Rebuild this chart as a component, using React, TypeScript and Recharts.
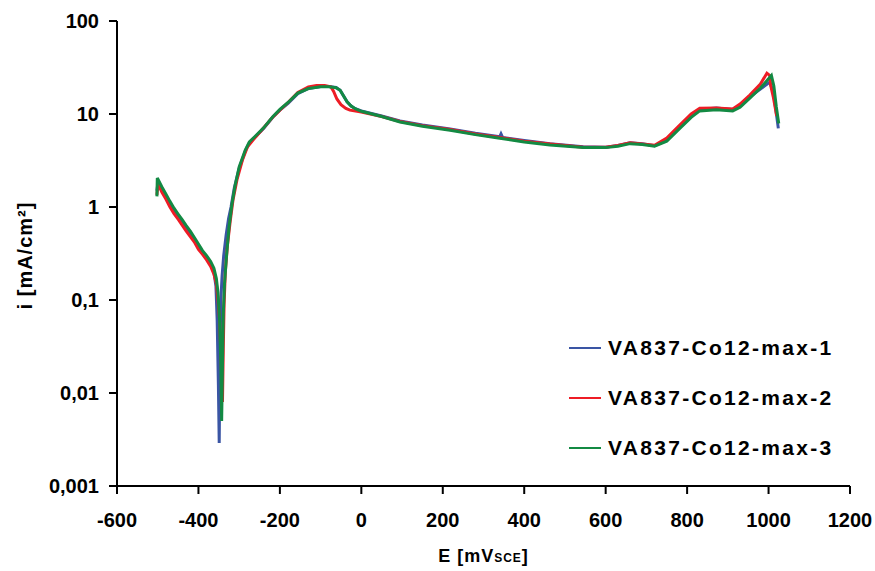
import { LineChart, Line, XAxis, YAxis, Label } from "recharts"

// polarisation curves, E in mV(SCE), i in mA/cm2
const run1: [number, number][] = [
  [-502, 1.5], [-500, 1.75], [-490, 1.5], [-480, 1.3], [-470, 1.08], [-460, 0.92], [-450, 0.8],
  [-440, 0.7], [-430, 0.6], [-420, 0.52], [-410, 0.44], [-400, 0.37], [-390, 0.32], [-380, 0.28],
  [-370, 0.24], [-362, 0.2], [-357, 0.14], [-354, 0.06], [-351, 0.012], [-349, 0.0029], [-347, 0.03],
  [-345, 0.1], [-342, 0.18], [-338, 0.3], [-332, 0.5], [-326, 0.75], [-320, 1.0], [-312, 1.6],
  [-300, 2.6], [-285, 4.0], [-275, 4.9], [-260, 5.7], [-240, 7.0], [-217, 9.3], [-200, 11],
  [-180, 13], [-156, 16.5], [-130, 18.8], [-100, 19.8], [-80, 19.8], [-62, 19.3], [-52, 18],
  [-45, 16], [-35, 13.5], [-25, 12.2], [-15, 11.4], [0, 10.8], [50, 9.5], [95, 8.4], [150, 7.6],
  [218, 6.9], [280, 6.2], [340, 5.7], [343, 6.1], [347, 5.6], [400, 5.2], [463, 4.8], [545, 4.45],
  [600, 4.4], [630, 4.6], [660, 4.9], [690, 4.8], [720, 4.55], [750, 5.2], [782, 7.3], [810, 9.6],
  [831, 11.2], [872, 11.6], [912, 11.2], [930, 12.3], [954, 15.3], [980, 18.5], [1003, 22],
  [1012, 17], [1018, 11], [1024, 7.0],
]

const run2: [number, number][] = [
  [-502, 1.35], [-499, 1.8], [-490, 1.45], [-480, 1.22], [-470, 1.0], [-460, 0.85], [-450, 0.74],
  [-440, 0.64], [-430, 0.55], [-420, 0.48], [-410, 0.42], [-400, 0.35], [-390, 0.31], [-380, 0.27],
  [-370, 0.23], [-362, 0.19], [-356, 0.15], [-352, 0.1], [-348, 0.06], [-344, 0.02], [-341, 0.008],
  [-339, 0.03], [-337, 0.09], [-334, 0.2], [-329, 0.38], [-322, 0.7], [-315, 1.2], [-305, 2.0],
  [-292, 3.2], [-280, 4.4], [-265, 5.3], [-245, 6.7], [-220, 9.0], [-200, 11], [-180, 13.3],
  [-156, 17], [-130, 19.5], [-110, 20.2], [-90, 20.2], [-75, 19.6], [-68, 17.5], [-60, 14.5],
  [-50, 12.6], [-38, 11.5], [-28, 11.0], [0, 10.5], [50, 9.4], [95, 8.3], [150, 7.5], [218, 6.8],
  [280, 6.1], [340, 5.6], [400, 5.1], [463, 4.75], [545, 4.4], [600, 4.4], [630, 4.6], [660, 4.9],
  [690, 4.75], [720, 4.6], [750, 5.5], [782, 7.6], [810, 10], [831, 11.5], [872, 11.6], [912, 11.3],
  [930, 12.8], [954, 16], [980, 21], [996, 27.5], [1003, 26], [1005, 20.5], [1012, 15], [1020, 9.5],
]

const run3: [number, number][] = [
  [-502, 1.3], [-501, 2.05], [-490, 1.65], [-480, 1.38], [-470, 1.15], [-460, 0.97], [-450, 0.84],
  [-440, 0.73], [-430, 0.63], [-420, 0.55], [-410, 0.47], [-400, 0.4], [-390, 0.34], [-380, 0.3],
  [-370, 0.26], [-362, 0.22], [-356, 0.17], [-352, 0.12], [-348, 0.06], [-345, 0.02], [-343, 0.005],
  [-341, 0.02], [-339, 0.07], [-336, 0.15], [-331, 0.3], [-325, 0.6], [-318, 1.05], [-310, 1.7],
  [-300, 2.7], [-285, 4.1], [-275, 5.0], [-260, 5.8], [-240, 7.1], [-217, 9.4], [-200, 11.2],
  [-180, 13.3], [-156, 16.8], [-130, 18.8], [-100, 19.6], [-80, 19.6], [-62, 19.2], [-52, 18],
  [-45, 16], [-35, 13.5], [-25, 12.2], [-15, 11.4], [0, 10.7], [50, 9.4], [95, 8.2], [150, 7.4],
  [218, 6.7], [280, 6.0], [340, 5.5], [400, 5.0], [463, 4.65], [545, 4.35], [600, 4.35], [630, 4.5],
  [660, 4.8], [690, 4.7], [720, 4.5], [750, 5.1], [782, 7.0], [810, 9.2], [831, 10.8], [872, 11.1],
  [912, 10.8], [930, 11.8], [954, 14.8], [980, 19], [1007, 26], [1013, 20], [1019, 12], [1025, 7.9],
]

const seriesNames = ["VA837-Co12-max-1", "VA837-Co12-max-2", "VA837-Co12-max-3"]
const seriesColors = ["#3A55A4", "#EE1C25", "#138A43"]
const xTicks = [-600, -400, -200, 0, 200, 400, 600, 800, 1000, 1200]
const yTicks = [0.001, 0.01, 0.1, 1, 10, 100]

const font = "'Liberation Sans', Arial, sans-serif"
const toRows = (pts: [number, number][]) => pts.map(([e, i]) => ({ e, i }))
const runs = [run1, run2, run3].map(toRows)

const fmtY = (v: number) => String(v).replace(".", ",")

// legend drawn as an overlay so it does not shrink the plot area
function LegendBox() {
  return (
    <div
      style={{
        position: "absolute",
        left: 569,
        top: 323,
        fontFamily: font,
        fontWeight: "bold",
        fontSize: 21,
        letterSpacing: 2.3,
      }}
    >
      {seriesNames.map((name, k) => (
        <div key={name} style={{ height: 50, display: "flex", alignItems: "center" }}>
          <svg width={39} height={4}>
            <line x1={0} x2={32} y1={2} y2={2} stroke={seriesColors[k]} strokeWidth={2} />
          </svg>
          <span style={{ color: "#000" }}>{name}</span>
        </div>
      ))}
    </div>
  )
}

export default function App() {
  const tickStyle = { fontFamily: font, fontWeight: "bold", fontSize: 20, fill: "#000" }
  return (
    <div style={{ position: "absolute", left: 0, top: 0, width: 875, height: 571 }}>
      <LineChart width={875} height={571} margin={{ top: 21, right: 25, bottom: 0, left: 0 }}>
        <XAxis
          type="number"
          dataKey="e"
          domain={[-600, 1200]}
          ticks={xTicks}
          height={85}
          tickSize={8}
          tickMargin={19}
          tick={tickStyle}
          stroke="#000"
          strokeWidth={2}
          interval={0}
        >
          <Label
            content={({ viewBox }: any) => (
              <text
                x={viewBox.x + viewBox.width / 2}
                y={viewBox.y + 76}
                textAnchor="middle"
                fontFamily={font}
                fontWeight="bold"
                fontSize={18}
                letterSpacing={1}
                fill="#000"
              >
                E [mV<tspan fontSize={12}>SCE</tspan>]
              </text>
            )}
          />
        </XAxis>
        <YAxis
          type="number"
          dataKey="i"
          scale="log"
          domain={[0.001, 100]}
          allowDataOverflow
          ticks={yTicks}
          width={117}
          tickSize={8}
          tickMargin={10}
          tick={tickStyle}
          tickFormatter={fmtY}
          stroke="#000"
          strokeWidth={2}
          interval={0}
        >
          <Label
            content={({ viewBox }: any) => {
              const cx = 25
              const cy = viewBox.y + viewBox.height / 2 + 2
              return (
                <text
                  x={cx}
                  y={cy}
                  transform={`rotate(-90 ${cx} ${cy})`}
                  textAnchor="middle"
                  dominantBaseline="central"
                  fontFamily={font}
                  fontWeight="bold"
                  fontSize={20}
                  letterSpacing={1}
                  fill="#000"
                >
                  i [mA/cm²]
                </text>
              )
            }}
          />
        </YAxis>
        {runs.map((rows, k) => (
          <Line
            key={seriesNames[k]}
            data={rows}
            dataKey="i"
            name={seriesNames[k]}
            type="linear"
            stroke={seriesColors[k]}
            strokeWidth={3}
            dot={false}
            activeDot={false}
            isAnimationActive={false}
          />
        ))}
      </LineChart>
      <LegendBox />
    </div>
  )
}
